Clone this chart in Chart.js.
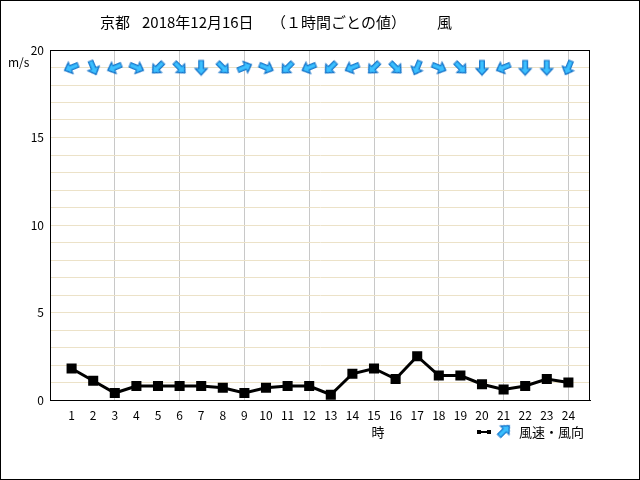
<!DOCTYPE html>
<html>
<head>
<meta charset="utf-8">
<script src="https://cdn.jsdelivr.net/npm/chart.js@4.4.1/dist/chart.umd.min.js"></script>
<style>
  body { margin: 0; background: #fff; }
  #wrap { width: 640px; height: 480px; }
</style>
</head>
<body>
<div id="wrap"><canvas id="windChart" width="640" height="480"></canvas></div>
<script>
const hours = [1, 2, 3, 4, 5, 6, 7, 8, 9, 10, 11, 12, 13, 14, 15, 16, 17, 18, 19, 20, 21, 22, 23, 24];
const windSpeed = [1.8, 1.1, 0.4, 0.8, 0.8, 0.8, 0.8, 0.7, 0.4, 0.7, 0.8, 0.8, 0.3, 1.5, 1.8, 1.2, 2.5, 1.4, 1.4, 0.9, 0.6, 0.8, 1.2, 1.0];
// wind comes FROM this direction
const windDir = ['東北東', '北北西', '東北東', '西北西', '北東', '北西', '北', '北西', '西南西', '西北西', '北東', '東北東',
                 '北東', '東北東', '北東', '北西', '北北東', '西北西', '北西', '北', '東北東', '北', '北', '北北東'];
const arrowRowValue = 19;
const yTicks = [0, 5, 10, 15, 20];
const titleParts = ['京都', '2018年12月16日', '（１時間ごとの値）', '風'];

const compass = ['北', '北北東', '北東', '東北東', '東', '東南東', '南東', '南南東',
                 '南', '南南西', '南西', '西南西', '西', '西北西', '北西', '北北西'];

// arrow drawn pointing up, rotated afterwards by chart.js
function makeArrow() {
    const c = document.createElement('canvas');
    c.width = 18;
    c.height = 18;
    const g = c.getContext('2d');
    g.beginPath();
    g.moveTo(9, 1.5);
    g.lineTo(15, 8);
    g.lineTo(11.3, 8);
    g.lineTo(11.3, 16);
    g.lineTo(6.7, 16);
    g.lineTo(6.7, 8);
    g.lineTo(3, 8);
    g.closePath();
    g.fillStyle = '#3cc0ff';
    g.fill();
    g.lineWidth = 1.2;
    g.strokeStyle = '#1070c8';
    g.stroke();
    return c;
}
const arrowImg = makeArrow();

// arrow points where the wind blows to
const arrowRotation = windDir.map(d => (compass.indexOf(d) * 22.5 + 180) % 360);

const jpFont = '"Noto Sans CJK JP", "DejaVu Sans", sans-serif';

const framePlugin = {
    id: 'frame',
    afterDraw(chart) {
        const ctx = chart.ctx;
        const area = chart.chartArea;
        ctx.save();
        ctx.strokeStyle = '#000';
        ctx.lineWidth = 1;
        ctx.strokeRect(area.left + 0.5, area.top + 0.5, area.right - area.left - 1, area.bottom - area.top);
        ctx.strokeRect(0.5, 0.5, chart.width - 1, chart.height - 1);

        ctx.fillStyle = '#000';
        ctx.font = '15px ' + jpFont;
        ctx.textBaseline = 'middle';
        ctx.textAlign = 'left';
        const titleX = [100, 142, 271, 437];
        titleParts.forEach((t, i) => ctx.fillText(t, titleX[i], 22));

        ctx.font = '12px ' + jpFont;
        ctx.fillText('m/s', 8, 62);

        const xs = chart.scales.x;
        ctx.textAlign = 'center';
        ctx.font = '13px ' + jpFont;
        ctx.fillText('時', xs.getPixelForValue(15) + 4, 432);

        // legend
        ctx.strokeStyle = '#000';
        ctx.lineWidth = 2;
        ctx.beginPath();
        ctx.moveTo(478, 432);
        ctx.lineTo(490, 432);
        ctx.stroke();
        ctx.fillRect(477, 430, 4, 4);
        ctx.fillRect(487, 430, 4, 4);
        ctx.save();
        ctx.translate(504, 431);
        ctx.rotate(Math.PI / 4);
        ctx.drawImage(arrowImg, -9, -9);
        ctx.restore();
        ctx.textAlign = 'left';
        ctx.font = '13px ' + jpFont;
        ctx.fillText('風速・風向', 519, 432);
        ctx.restore();
    }
};

new Chart(document.getElementById('windChart'), {
    type: 'line',
    data: {
        datasets: [{
            label: '風速',
            data: hours.map((h, i) => ({ x: h, y: windSpeed[i] })),
            borderColor: '#000',
            backgroundColor: '#000',
            borderWidth: 3,
            pointStyle: 'rect',
            pointRadius: 5,
            tension: 0
        }, {
            label: '風向',
            data: hours.map(h => ({ x: h, y: arrowRowValue })),
            showLine: false,
            pointStyle: arrowImg,
            pointRotation: arrowRotation
        }]
    },
    plugins: [framePlugin],
    options: {
        responsive: false,
        animation: false,
        layout: { padding: { left: 0, top: 50, right: 50, bottom: 0 } },
        plugins: {
            legend: { display: false },
            title: { display: false },
            tooltip: { enabled: false }
        },
        scales: {
            x: {
                type: 'linear',
                min: 0,
                max: 25,
                afterFit: s => { s.height = 80; },
                afterBuildTicks: s => { s.ticks = Array.from({ length: 26 }, (_, i) => ({ value: i })); },
                ticks: {
                    autoSkip: false,
                    maxRotation: 0,
                    padding: 8,
                    color: '#000',
                    font: { family: jpFont, size: 12 },
                    callback: v => (v >= 1 && v <= 24 ? String(v) : '')
                },
                grid: {
                    drawTicks: false,
                    color: c => (c.tick && c.tick.value % 3 === 0 && c.tick.value > 0 && c.tick.value < 25 ? '#c8c8c8' : 'rgba(0,0,0,0)')
                },
                border: { display: true, color: '#000' }
            },
            y: {
                min: 0,
                max: 20,
                afterFit: s => { s.width = 50; },
                afterBuildTicks: s => { s.ticks = Array.from({ length: 21 }, (_, i) => ({ value: i })); },
                ticks: {
                    autoSkip: false,
                    padding: 6,
                    color: '#000',
                    font: { family: jpFont, size: 12 },
                    callback: v => (yTicks.includes(v) ? String(v) : '')
                },
                grid: {
                    drawTicks: false,
                    color: c => (c.tick && c.tick.value > 0 && c.tick.value < 20 ? '#ece2c8' : 'rgba(0,0,0,0)')
                },
                border: { display: true, color: '#000' }
            }
        }
    }
});
</script>
</body>
</html>
